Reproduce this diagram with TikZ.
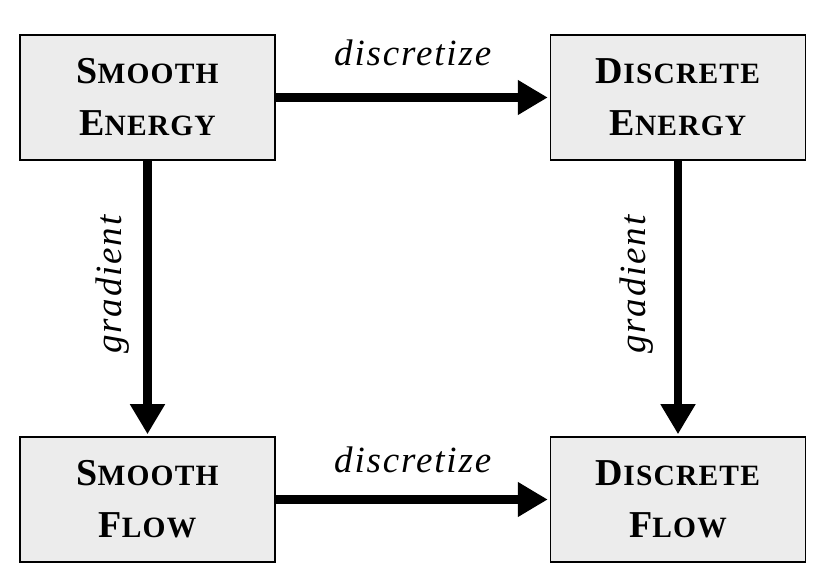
\documentclass[tikz,border=0pt]{standalone}
\usepackage{fontspec}
\setmainfont{Liberation Serif}
\usetikzlibrary{arrows.meta}
\newcommand{\capsc}[2]{{\fontsize{38}{40}\selectfont #1}{\fontsize{29.5}{30}\selectfont #2}}

\begin{document}
\begin{tikzpicture}[x=1pt,y=-1pt,
  box/.style={draw,line width=1.5pt,fill=gray!15,minimum width=255pt,minimum height=125pt,
    align=center,font=\bfseries\addfontfeature{LetterSpace=4}\fontsize{38}{52}\selectfont},
  flow/.style={line width=8.5pt,-{Triangle[length=30pt,width=33pt]},shorten >=2pt},
  lbl/.style={font=\itshape\addfontfeature{LetterSpace=5}\fontsize{37}{40}\selectfont}]
\useasboundingbox (0,0) rectangle (831,585);
\node[box] (smoothE) at (147.5,97.5) {\capsc{S}{MOOTH}\\\capsc{E}{NERGY}};
\node[box] (discE) at (678,97.5) {\capsc{D}{ISCRETE}\\\capsc{E}{NERGY}};
\node[box] (smoothF) at (147.5,499.5) {\capsc{S}{MOOTH}\\\capsc{F}{LOW}};
\node[box] (discF) at (678,499.5) {\capsc{D}{ISCRETE}\\\capsc{F}{LOW}};

\draw[flow] (smoothE) -- (discE) node[midway,lbl,anchor=base,yshift=32pt] {discretize};
\draw[flow] (smoothF) -- (discF) node[midway,lbl,anchor=base,yshift=27pt] {discretize};
\draw[flow] (smoothE) -- (smoothF) node[pos=0.45,lbl,rotate=90,anchor=south,inner sep=14pt] {gradient};
\draw[flow] (discE) -- (discF) node[pos=0.45,lbl,rotate=90,anchor=south,inner sep=20pt] {gradient};

\end{tikzpicture}
\end{document}
